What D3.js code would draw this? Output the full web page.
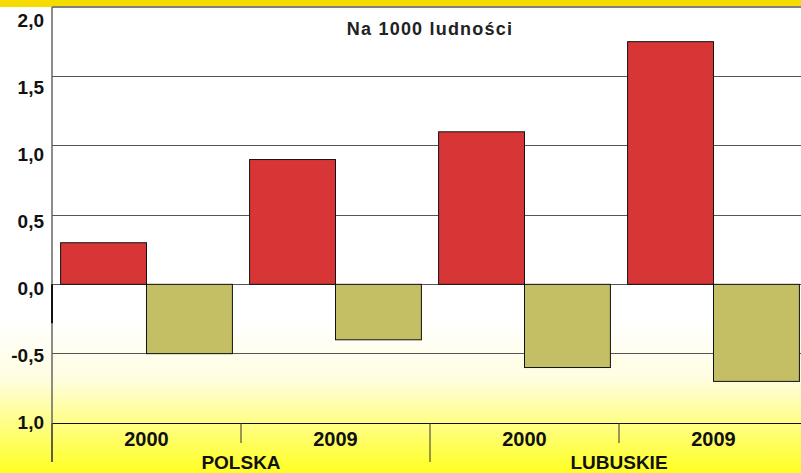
<!DOCTYPE html>
<html>
<head>
<meta charset="utf-8">
<script src="https://cdn.jsdelivr.net/npm/d3@7"></script>
<style>
  html, body { margin: 0; padding: 0; overflow: hidden; }
  svg { display: block; font-family: "Liberation Sans", Arial, sans-serif; }
</style>
</head>
<body>
<script>
// values
var years = ["2000", "2009", "2000", "2009"];
var regions = ["POLSKA", "LUBUSKIE"];
var redValues = [0.3, 0.9, 1.1, 1.75];
var oliveValues = [-0.5, -0.4, -0.6, -0.7];
var tickValues = [2, 1.5, 1, 0.5, 0, -0.5, -1];
var tickLabels = ["2,0", "1,5", "1,0", "0,5", "0,0", "-0,5", "1,0"];
var title = "Na 1000 ludności";

(function() {
    var W = 801, H = 473;
    var plotLeft = 52, plotTop = 7, plotBottom = 423, catW = 189;

    var svg = d3.select("body").append("svg")
        .attr("width", W).attr("height", H);

    var grad = svg.append("defs").append("linearGradient").attr("id", "bg")
        .attr("x1", 0).attr("y1", 0).attr("x2", 0).attr("y2", 1);
    grad.append("stop").attr("offset", "0.68").attr("stop-color", "#ffffff");
    grad.append("stop").attr("offset", "0.8").attr("stop-color", "#fffde0");
    grad.append("stop").attr("offset", "1").attr("stop-color", "#ffff22");

    svg.append("rect").attr("width", W).attr("height", H).attr("fill", "url(#bg)");

    var data = years.map(function(y, i) {
        return { key: i, year: y, red: redValues[i], olive: oliveValues[i] };
    });

    var x = d3.scaleBand()
        .domain(data.map(function(d) { return d.key; }))
        .range([plotLeft, plotLeft + catW * years.length])
        .padding(0);

    var xs = d3.scaleBand().domain(["red", "olive"])
        .range([0, x.bandwidth()])
        .paddingInner(0).paddingOuter(0.1);

    var y = d3.scaleLinear().domain([-1, 2]).range([plotBottom, plotTop]);
    var yLab = d3.scaleLinear().domain([-1, 2]).range([422, 20]);

    // yellow strip at the top
    svg.append("rect").attr("x", 0).attr("y", 0).attr("width", W).attr("height", plotTop)
        .attr("fill", "#f5dc00");

    // gridlines
    svg.selectAll(".grid")
        .data(tickValues)
        .enter().append("line")
        .attr("x1", plotLeft).attr("x2", W)
        .attr("y1", function(d) { return y(d); })
        .attr("y2", function(d) { return y(d); })
        .attr("stroke", function(d) { return d === 2 ? "#808080" : (d === -1 ? "#111" : "#555"); })
        .attr("stroke-width", function(d) { return d === 2 ? 2 : 1; })
        .attr("shape-rendering", "crispEdges");

    svg.append("text")
        .attr("x", 430).attr("y", 35)
        .attr("text-anchor", "middle")
        .attr("font-size", 18).attr("font-weight", "bold")
        .attr("letter-spacing", 1.2)
        .attr("fill", "#222")
        .text(title);

    // bars
    var g = svg.append("g");
    g.selectAll(".red")
        .data(data)
        .enter().append("rect")
        .attr("x", function(d) { return x(d.key) + xs("red"); })
        .attr("y", function(d) { return y(d.red); })
        .attr("width", xs.bandwidth())
        .attr("height", function(d) { return y(0) - y(d.red); })
        .attr("fill", "#d83636")
        .attr("stroke", "#111").attr("stroke-width", 1);

    g.selectAll(".olive")
        .data(data)
        .enter().append("rect")
        .attr("x", function(d) { return x(d.key) + xs("olive"); })
        .attr("y", y(0))
        .attr("width", xs.bandwidth())
        .attr("height", function(d) { return y(d.olive) - y(0); })
        .attr("fill", "#c4be64")
        .attr("stroke", "#111").attr("stroke-width", 1);

    // y axis line
    svg.append("line")
        .attr("x1", plotLeft).attr("x2", plotLeft).attr("y1", plotTop).attr("y2", 462)
        .attr("stroke", "#666").attr("stroke-width", 1.5);
    svg.append("line")
        .attr("x1", plotLeft).attr("x2", plotLeft).attr("y1", y(0)).attr("y2", y(-0.28))
        .attr("stroke", "#111").attr("stroke-width", 2);

    svg.selectAll(".ylab")
        .data(tickValues)
        .enter().append("text")
        .attr("x", 44)
        .attr("y", function(d) { return yLab(d); })
        .attr("dy", "0.36em")
        .attr("text-anchor", "end")
        .attr("font-size", 19).attr("font-weight", "bold")
        .attr("fill", "#111")
        .text(function(d, i) { return tickLabels[i]; });

    // category separators below the axis
    svg.selectAll(".sep")
        .data(d3.range(years.length + 1))
        .enter().append("line")
        .attr("x1", function(d) { return plotLeft + d * x.bandwidth(); })
        .attr("x2", function(d) { return plotLeft + d * x.bandwidth(); })
        .attr("y1", plotBottom)
        .attr("y2", function(d) { return d % 2 === 0 ? 462 : 443; })
        .attr("stroke", "#333").attr("stroke-width", 1);

    svg.selectAll(".year")
        .data(data)
        .enter().append("text")
        .attr("x", function(d) { return x(d.key) + x.bandwidth() / 2; })
        .attr("y", 446)
        .attr("text-anchor", "middle")
        .attr("font-size", 20).attr("font-weight", "bold")
        .attr("fill", "#111")
        .text(function(d) { return d.year; });

    svg.selectAll(".region")
        .data(regions)
        .enter().append("text")
        .attr("x", function(d, i) { return plotLeft + (i * 2 + 1) * x.bandwidth(); })
        .attr("y", 469)
        .attr("text-anchor", "middle")
        .attr("font-size", 19).attr("font-weight", "bold")
        .attr("fill", "#111")
        .text(function(d) { return d; });
})();
</script>
</body>
</html>
